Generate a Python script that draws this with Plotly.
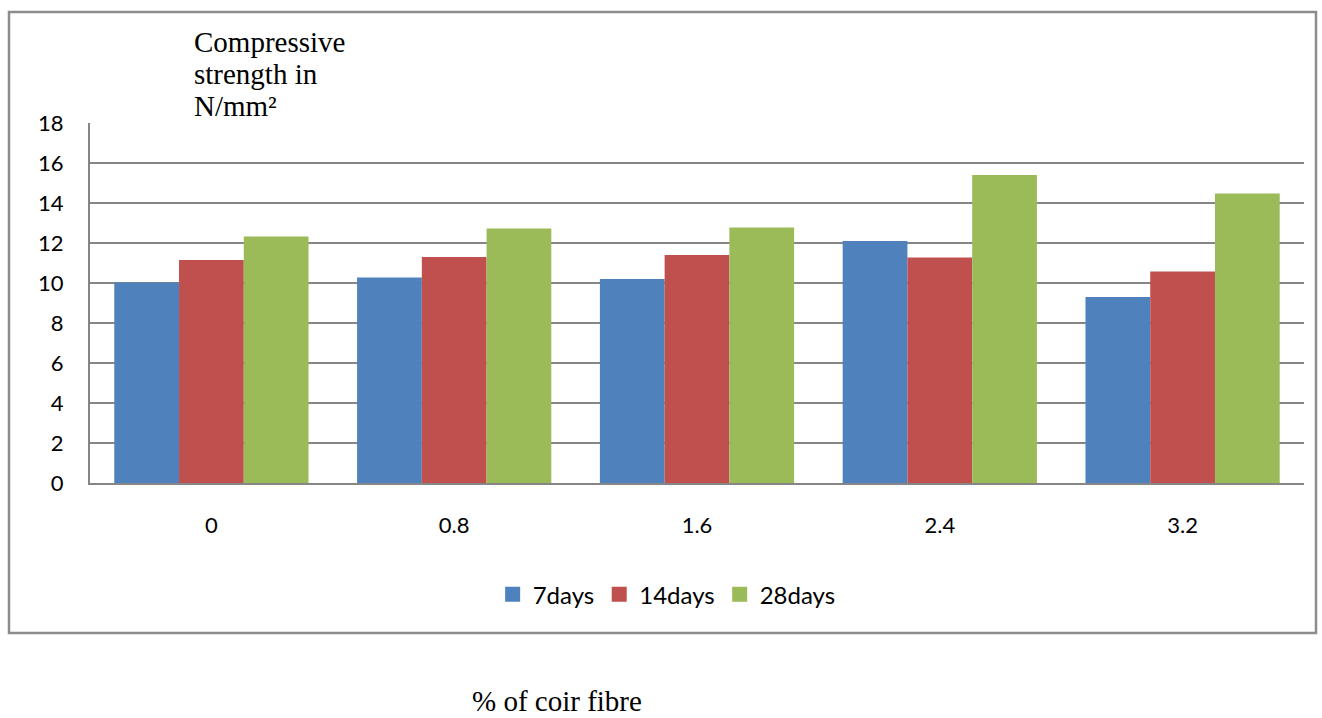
import plotly.graph_objects as go

categories = ["0", "0.8", "1.6", "2.4", "3.2"]
days7 = [10.03, 10.28, 10.2, 12.1, 9.3]
days14 = [11.15, 11.3, 11.4, 11.28, 10.58]
days28 = [12.32, 12.72, 12.78, 15.4, 14.47]
series_names = ["7days", "14days", "28days"]
colors = ["#4F81BD", "#C0504D", "#9BBB59"]
y_ticks = [0, 2, 4, 6, 8, 10, 12, 14, 16, 18]
title_lines = ["Compressive", "strength in", "N/mm²"]
x_title = "% of coir fibre"

fig = go.Figure()
for name, vals, c in zip(series_names, [days7, days14, days28], colors):
    fig.add_trace(go.Bar(x=categories, y=vals, name=name, showlegend=False,
                         marker=dict(color=c, line=dict(width=0))))
# legend entries with larger square swatches
for name, c in zip(series_names, colors):
    fig.add_trace(go.Scatter(x=[None], y=[None], mode="markers", name=name,
                             marker=dict(symbol="square", size=15, color=c)))

W, H = 1322, 718
L, R, T, B = 90, 1304, 123, 483
fig.update_layout(
    width=W, height=H,
    margin=dict(l=L, r=W - R, t=T, b=H - B, pad=0),
    paper_bgcolor="white", plot_bgcolor="white",
    barmode="group", bargap=0.2, bargroupgap=0,
    font=dict(family="Lato, Open Sans, sans-serif", size=22, color="black"),
    showlegend=True,
    legend=dict(orientation="h", x=0.475, xanchor="center", y=-0.31, yanchor="middle",
                font=dict(size=24), traceorder="normal", itemwidth=30),
    xaxis=dict(type="category", showgrid=False, showline=True, linecolor="#868686", linewidth=2,
               ticks="", ticklabelstandoff=22, tickfont=dict(size=22)),
    yaxis=dict(range=[0, 18], tickvals=y_ticks, showgrid=True, gridcolor="#868686", gridwidth=2,
               showline=True, linecolor="#868686", linewidth=2, ticks="",
               ticklabelstandoff=20, tickfont=dict(size=22), zeroline=False),
)

pw, ph = R - L, B - T
def px(x):
    return (x - L) / pw
def py(y):
    return (B - y) / ph

fig.add_shape(type="rect", xref="paper", yref="paper",
              x0=px(9), x1=px(1316), y0=py(633), y1=py(12),
              line=dict(color="#8c8c8c", width=2.5), fillcolor="rgba(0,0,0,0)", layer="below")

serif = "Liberation Serif, Times New Roman, serif"
for i, line in enumerate(title_lines):
    fig.add_annotation(xref="paper", yref="paper", x=px(192), y=py(42 + 32 * i),
                       xanchor="left", yanchor="middle", text=line, showarrow=False,
                       font=dict(family=serif, size=29, color="black"))

fig.add_annotation(xref="paper", yref="paper", x=px(470), y=py(701), xanchor="left", yanchor="middle",
                   text=x_title, showarrow=False,
                   font=dict(family=serif, size=29, color="black"))

fig.write_html("out.html", config={"displayModeBar": False},
               post_script="document.body.style.margin='0';document.body.style.overflow='hidden';")
